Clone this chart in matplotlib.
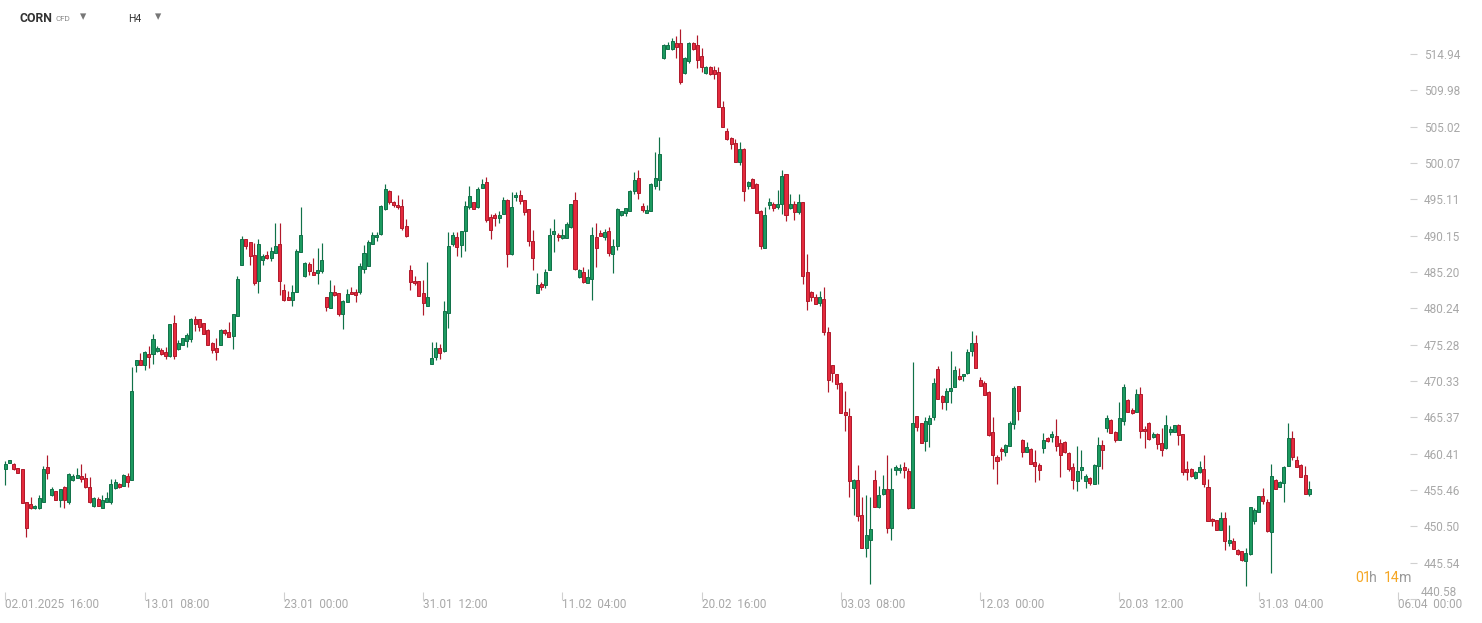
import matplotlib
matplotlib.use("Agg")
import matplotlib.pyplot as plt
import numpy as np

# ---- data (H4 candles, CORN CFD) ----
opens = [
458.35,459.17,458.99,458.41,458.27,453.77,453.49,452.95,452.95,453.85,
458.55,454.77,455.27,454.08,455.81,453.85,456.81,457.13,457.32,457.05,
455.81,453.31,454.18,453.03,453.85,453.85,455.76,456.31,456.04,457.36,
456.81,472.55,473.15,472.55,474.01,474.05,474.46,474.55,474.28,473.78,
478.24,474.73,475.28,475.82,476.10,478.78,478.78,478.24,477.28,475.55,
474.82,475.28,477.28,477.01,476.50,479.15,486.11,489.66,489.25,487.47,
483.92,486.79,487.47,487.06,487.75,488.97,482.70,481.74,481.33,482.43,
487.88,484.65,486.24,485.15,485.10,485.29,481.74,480.24,482.43,482.29,
479.51,481.06,482.51,482.43,482.43,485.57,485.97,488.97,489.93,490.34,
493.75,496.21,494.71,494.30,494.16,491.43,485.43,483.92,483.92,482.29,
480.51,472.60,473.56,474.78,474.37,479.56,488.97,489.93,488.84,490.75,
494.02,494.71,494.02,496.62,497.43,492.66,492.93,492.52,493.07,494.98,
487.61,495.39,495.66,494.98,493.75,489.38,482.29,483.52,483.38,485.43,
490.34,490.20,489.79,489.79,491.29,494.98,484.47,485.15,483.74,484.28,
489.97,490.52,489.97,490.79,487.69,488.74,492.97,493.25,493.52,496.25,
498.02,494.20,493.25,493.52,496.93,497.75,514.40,515.62,515.62,516.44,
516.44,512.35,513.99,516.44,516.17,514.67,512.35,513.17,512.76,512.49,
507.71,504.44,503.48,502.80,500.21,501.98,496.93,497.89,497.20,493.52,
488.47,494.34,494.48,494.06,494.48,498.57,493.93,494.48,493.38,494.75,
485.20,482.47,481.74,480.93,481.47,476.97,472.46,471.23,470.01,466.05,
465.50,455.68,456.77,451.99,447.49,448.59,456.77,453.09,454.86,455.54,
450.22,458.14,458.14,458.55,458.00,452.95,465.50,464.55,462.09,464.41,
465.37,471.92,468.23,467.42,468.92,469.46,470.96,471.05,471.37,474.37,
475.46,470.42,470.01,468.78,463.32,459.91,461.00,460.59,461.41,464.41,
469.60,462.23,460.59,461.00,459.23,458.82,461.14,462.54,462.64,462.78,
461.82,461.96,460.46,458.55,456.64,458.14,456.64,457.05,456.22,458.68,
461.55,463.87,464.96,463.32,462.23,464.82,467.69,466.32,466.05,468.51,
463.73,464.55,462.64,463.05,461.82,461.14,463.32,463.32,464.28,463.05,
458.27,458.27,457.05,457.86,458.27,455.81,451.45,451.32,449.95,451.59,
448.18,448.45,447.22,447.09,445.72,446.68,451.18,452.41,454.59,453.77,
449.72,456.77,455.81,456.36,458.68,462.50,459.50,458.82,457.45,454.86]

highs = [
459.40,459.55,459.13,458.41,458.27,453.77,454.49,453.40,454.73,458.68,
460.23,455.81,455.27,455.54,455.99,457.77,457.67,458.45,458.99,457.77,
457.22,454.45,454.49,454.73,455.18,456.91,456.91,456.45,457.63,457.77,
472.23,473.15,474.14,474.42,475.10,476.74,475.06,474.82,474.92,478.06,
479.33,475.88,476.19,476.83,478.92,479.19,478.78,478.24,477.42,475.69,
476.23,477.42,477.42,478.37,479.47,484.65,490.11,489.66,489.25,489.15,
489.66,487.61,488.02,488.57,491.84,491.84,483.56,482.56,483.38,488.29,
494.06,486.52,486.52,487.06,488.43,489.11,481.74,484.10,483.38,482.29,
481.33,482.84,483.11,482.88,486.38,488.88,489.52,490.61,490.61,494.30,
497.16,496.34,494.84,495.66,495.11,492.39,486.11,484.61,483.92,484.06,
486.52,475.60,475.60,475.33,481.20,490.61,490.61,490.61,490.75,494.84,
496.89,494.71,496.75,497.84,498.12,493.07,493.20,493.48,495.39,495.11,
496.07,496.07,496.34,494.98,493.75,490.88,485.02,483.79,485.57,491.16,
492.39,490.47,491.02,491.98,494.43,496.07,485.57,485.84,485.61,491.34,
491.88,490.93,491.06,491.34,489.70,493.93,493.52,493.93,496.38,498.84,
499.11,494.61,494.34,497.34,501.57,503.62,516.31,516.58,517.12,517.40,
518.35,514.53,516.58,516.58,517.53,515.76,513.30,513.30,513.30,513.17,
508.53,504.84,503.62,503.34,502.93,502.12,497.61,498.02,497.34,493.65,
494.06,495.29,494.75,496.38,499.11,498.57,495.84,494.88,495.84,494.75,
487.65,482.60,482.15,482.56,483.11,477.65,472.46,471.23,470.15,468.92,
466.60,456.91,458.82,454.45,454.73,454.45,458.14,455.95,457.45,460.18,
458.41,458.82,458.96,459.23,458.41,472.88,465.50,464.55,465.37,465.64,
470.69,472.33,468.37,469.33,474.37,472.33,472.06,471.23,474.64,477.10,
476.56,470.83,470.28,468.92,465.37,460.18,461.28,461.69,464.82,469.60,
469.60,462.37,461.96,461.14,460.87,459.09,463.18,462.68,463.50,465.14,
462.37,462.09,460.59,459.13,461.45,460.91,457.59,457.18,458.96,462.68,
462.27,465.64,465.09,463.46,467.42,469.87,467.82,466.60,469.19,469.46,
464.14,464.69,463.32,463.18,463.87,465.64,464.14,464.28,464.41,463.05,
459.37,458.41,458.00,459.37,460.18,456.91,451.59,451.32,452.41,452.41,
450.63,448.86,447.36,447.09,447.50,453.09,452.95,454.59,455.68,454.18,
458.96,456.91,456.64,458.68,464.55,463.46,460.05,458.96,458.68,456.64]

lows = [
456.17,459.10,458.18,457.81,453.63,449.08,452.89,452.86,452.86,453.85,
456.99,454.63,454.08,453.17,452.95,453.49,456.68,457.13,456.58,455.76,
453.72,453.17,453.22,453.03,453.85,453.49,455.63,455.76,456.04,455.90,
456.81,471.59,472.55,471.86,472.13,472.69,474.24,473.91,473.37,473.64,
473.37,474.59,475.28,475.00,475.69,477.19,477.19,476.78,475.28,474.18,
473.19,475.28,476.64,476.37,474.73,479.15,486.11,488.38,486.15,483.46,
482.37,486.11,486.93,486.65,487.75,482.10,481.20,481.33,480.51,482.43,
487.88,484.51,484.75,484.79,483.52,485.02,479.92,480.24,481.96,479.23,
477.46,481.06,482.15,481.06,482.15,485.02,485.97,488.97,489.38,490.20,
493.61,494.43,494.02,493.75,490.88,489.93,482.70,483.38,481.88,479.29,
480.51,472.60,473.15,473.28,474.24,477.51,488.70,487.34,487.20,488.02,
493.75,493.75,493.89,496.62,491.98,489.66,491.43,491.84,493.07,485.92,
487.47,494.84,494.43,492.93,488.70,485.43,482.29,482.70,482.97,485.43,
487.88,489.38,489.66,489.79,491.16,485.47,484.41,483.74,483.74,481.38,
485.88,490.15,489.56,487.38,485.06,488.20,492.84,492.84,493.52,495.84,
495.16,493.38,493.25,493.52,496.52,496.38,514.26,515.62,515.49,514.40,
510.85,512.21,513.71,515.49,513.03,512.49,512.21,512.08,511.53,507.71,
504.98,503.21,501.98,500.21,499.80,494.88,496.52,496.66,493.25,488.33,
488.47,493.79,493.52,493.79,493.11,492.15,493.79,492.29,493.11,483.56,
480.01,481.24,480.79,480.51,476.64,468.86,470.15,469.19,465.91,463.54,
454.45,451.99,451.18,447.49,446.26,442.58,453.09,452.95,454.73,449.54,
448.59,457.45,457.73,457.05,452.81,452.95,463.46,461.82,460.73,461.28,
464.96,467.82,466.46,466.32,467.28,469.46,470.42,470.28,471.23,473.69,
472.06,469.60,468.37,462.78,458.27,456.22,459.50,460.05,461.41,463.73,
464.96,459.91,460.59,458.96,456.50,456.77,460.46,462.00,462.00,460.81,
457.27,460.46,458.00,455.54,455.27,456.91,455.68,456.09,456.22,456.22,
458.27,463.32,463.18,462.00,462.23,464.28,466.05,465.78,466.05,462.50,
461.14,462.27,462.50,461.00,460.05,461.00,462.91,463.32,461.55,457.45,
456.77,457.18,456.91,457.73,455.81,451.18,450.50,449.95,449.95,447.22,
447.77,447.36,446.54,445.72,442.31,446.54,450.77,452.41,453.49,449.72,
444.06,455.54,455.81,453.77,458.68,459.50,458.55,457.18,454.86,454.59]

closes = [
458.99,459.50,458.27,457.81,453.63,450.31,453.03,453.26,454.32,458.27,
457.81,455.54,454.08,455.54,454.08,457.59,457.32,457.50,456.91,455.90,
453.81,454.32,453.31,454.04,454.32,456.22,456.54,455.90,457.50,456.58,
468.96,473.15,472.55,474.28,473.64,476.05,474.82,474.05,473.78,478.06,
473.78,475.51,476.19,476.64,478.78,478.14,477.73,476.78,475.28,474.59,
474.32,477.28,476.92,476.37,479.47,484.20,489.66,488.78,487.34,483.74,
488.97,487.34,487.15,488.02,488.70,483.92,481.33,481.33,482.43,488.02,
490.20,486.38,485.29,484.79,485.43,486.79,480.46,482.43,482.10,479.51,
481.20,482.15,482.15,482.02,485.97,487.75,489.25,490.20,490.20,494.16,
496.48,494.71,494.30,494.02,491.16,490.07,483.79,483.65,481.88,480.93,
481.74,473.42,474.78,474.10,479.83,488.70,490.20,488.57,490.75,494.16,
495.52,493.75,496.48,497.16,492.25,490.88,492.52,492.93,494.98,487.61,
494.02,495.66,494.84,493.34,489.38,487.06,483.38,483.11,485.15,490.20,
490.75,489.93,490.20,491.70,494.43,485.57,485.43,483.79,484.51,490.24,
488.51,490.15,490.65,487.79,488.74,493.79,493.52,493.93,496.25,497.75,
495.97,493.65,493.65,497.20,498.02,501.30,516.17,516.17,516.72,515.90,
511.12,514.40,516.44,515.62,514.12,513.17,513.17,512.21,512.21,507.71,
504.98,503.34,502.66,500.21,501.98,496.25,497.48,496.66,493.25,488.74,
492.97,494.75,493.93,494.48,498.29,492.97,494.48,493.38,494.75,484.65,
481.24,481.79,480.79,481.74,477.05,470.42,471.37,469.87,465.91,465.73,
456.64,456.77,451.86,447.49,449.27,450.09,453.09,454.73,455.54,450.22,
455.54,458.55,458.41,458.14,452.95,464.55,464.00,461.82,464.82,465.23,
470.01,467.82,467.42,468.92,469.33,471.78,470.63,471.23,474.24,475.46,
472.06,469.60,468.37,462.91,460.18,459.37,460.73,461.55,464.55,469.33,
466.18,460.59,461.28,458.96,458.68,458.14,462.23,462.09,463.09,461.41,
460.18,460.59,458.36,456.85,458.00,458.55,457.32,456.37,458.82,461.55,
460.87,465.23,463.18,462.27,465.23,469.46,466.05,465.91,468.51,463.46,
463.46,462.36,463.05,461.68,460.87,464.28,463.73,464.28,462.91,457.86,
457.86,457.32,457.86,458.55,456.22,451.18,451.18,449.95,451.59,448.45,
448.59,447.36,446.68,445.86,446.81,453.09,452.68,454.59,453.91,449.86,
457.32,455.54,456.50,458.55,462.50,459.91,458.55,457.18,454.86,455.54]

price_ticks = [514.94, 509.98, 505.02, 500.07, 495.11, 490.15, 485.20, 480.24,
               475.28, 470.33, 465.37, 460.41, 455.46, 450.50, 445.54, 440.58]
time_tick_pos = [0, 33, 66, 99, 132, 165, 198, 231, 264, 297, 330]
time_tick_labels = ["02.01.2025  16:00", "13.01  08:00", "23.01  00:00", "31.01  12:00",
                    "11.02  04:00", "20.02  16:00", "03.03  08:00", "12.03  00:00",
                    "20.03  12:00", "31.03  04:00", "06.04  00:00"]

# ---- figure ----
W, H = 1482, 623
fig = plt.figure(figsize=(W / 100, H / 100), dpi=100)
ax_left, ax_right, ax_top, ax_bot = 0, 1410, 0, 600
ax = fig.add_axes([ax_left / W, 1 - ax_bot / H, (ax_right - ax_left) / W, (ax_bot - ax_top) / H])

px_per_bar = 4.22
x0_px = 5.3
ax.set_xlim(-x0_px / px_per_bar, (ax_right - x0_px) / px_per_bar)
ax.set_ylim(440.44, 522.31)

o = np.array(opens); h = np.array(highs); l = np.array(lows); c = np.array(closes)
x = np.arange(len(o))
up = c >= o

G_FILL, G_EDGE = "#1c9a60", "#107148"
R_FILL, R_EDGE = "#e42a3d", "#b0192a"

edge = np.where(up, G_EDGE, R_EDGE)
fill = np.where(up, G_FILL, R_FILL)

ax.vlines(x, l, h, colors=edge, linewidth=0.85, zorder=2)
body_bottom = np.minimum(o, c)
body_h = np.maximum(np.abs(c - o), 0.12)
ax.bar(x, body_h, bottom=body_bottom, width=0.72, color=fill, edgecolor=edge,
       linewidth=0.7, zorder=3)

for s in ax.spines.values():
    s.set_visible(False)

AXIS_TXT = "#a8a8a8"
ax.yaxis.tick_right()
ax.set_yticks(price_ticks)
ax.set_yticklabels([f"{p:.2f}" for p in price_ticks[:-1]] + [""])
ax.tick_params(axis="y", length=5, width=0.8, color="#d0d0d0", labelcolor=AXIS_TXT,
               labelsize=8.5, pad=5)
for t in ax.get_yticklabels():
    t.set_fontfamily("Roboto")
# bottom price label sits a little higher, as in the platform
ax.annotate(f"{price_ticks[-1]:.2f}", xy=(1, price_ticks[-1]),
            xycoords=("axes fraction", "data"), xytext=(7.5, 4.5), textcoords="offset points",
            fontsize=8.5, color=AXIS_TXT, family="Roboto", va="center", ha="left",
            annotation_clip=False)

ax.set_xticks(time_tick_pos)
ax.set_xticklabels(time_tick_labels, ha="left")
ax.tick_params(axis="x", length=6, width=0.8, color="#d0d0d0", labelcolor=AXIS_TXT,
               labelsize=8.5, pad=-1.5, direction="in")
for t in ax.get_xticklabels():
    t.set_fontfamily("Roboto")

# header
fig.text(20 / W, 1 - 18 / H, "CORN", fontsize=8.8, fontweight="bold", color="#333333",
         family="Roboto", va="center", ha="left")
fig.text(55 / W, 1 - 19 / H, "CFD", fontsize=5.8, color="#888888", family="Roboto",
         va="center", ha="left")
fig.text(83 / W, 1 - 16.5 / H, "\u25BE", fontsize=9, color="#777777", family="DejaVu Sans",
         va="center", ha="center")
fig.text(128 / W, 1 - 19 / H, "H4", fontsize=7.5, color="#333333", family="Roboto",
         va="center", ha="left")
fig.text(158 / W, 1 - 16.5 / H, "\u25BE", fontsize=9, color="#777777", family="DejaVu Sans",
         va="center", ha="center")

# countdown
ORANGE = "#f5a623"
yc = 1 - 578 / H
fig.text(1355 / W, yc, "01", fontsize=10.2, color=ORANGE, family="Roboto", va="center", ha="left")
fig.text(1369.5 / W, yc, "h", fontsize=10.2, color="#999999", family="Roboto", va="center", ha="left")
fig.text(1384 / W, yc, "14", fontsize=10.2, color=ORANGE, family="Roboto", va="center", ha="left")
fig.text(1399 / W, yc, "m", fontsize=10.2, color="#999999", family="Roboto", va="center", ha="left")

fig.savefig("out.png", dpi=100, facecolor="white")
